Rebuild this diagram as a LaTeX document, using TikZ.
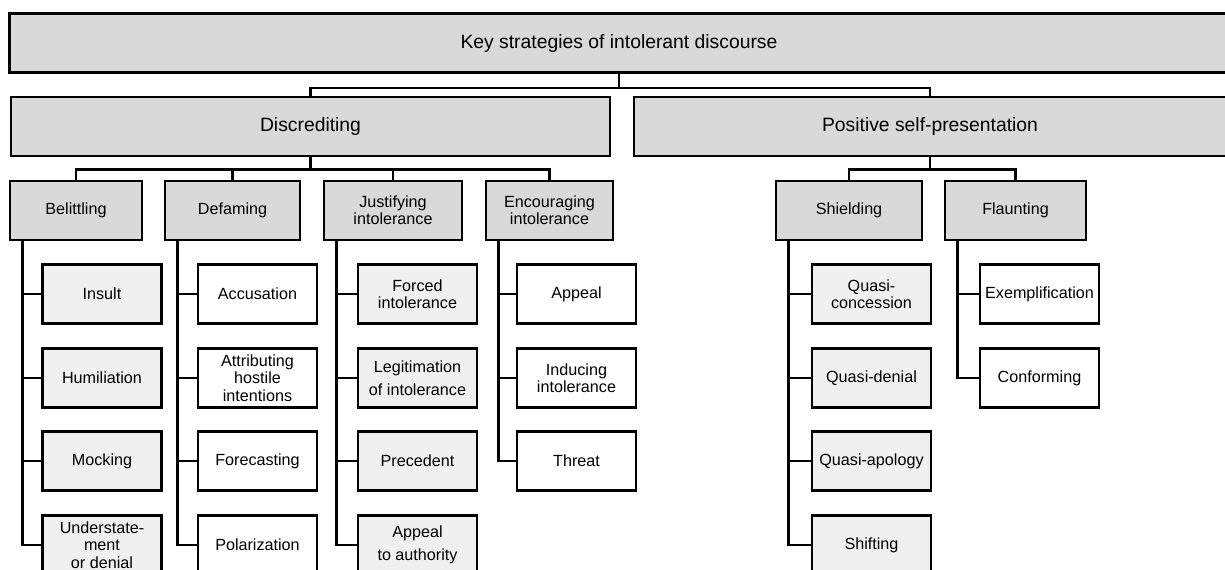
\documentclass[tikz,border=0pt]{standalone}
\usepackage{fontspec}
\setmainfont{Liberation Sans}

\definecolor{boxgray}{HTML}{D9D9D9}
\definecolor{leafgray}{HTML}{F0F0F0}

\tikzstyle{headbox} = [draw,line width=1.6pt,fill=boxgray,font=\fontsize{11}{13}\selectfont,minimum height=1.18cm,inner sep=0pt]
\tikzstyle{groupbox} = [draw,line width=1.6pt,fill=boxgray,align=center,font=\fontsize{9.2}{9.8}\selectfont,minimum height=1.18cm,inner sep=0pt]
\tikzstyle{leafbox} = [draw,line width=1.6pt,align=center,font=\fontsize{9.2}{9.8}\selectfont,minimum width=2.38cm,minimum height=1.18cm,inner sep=0pt]
\tikzstyle{link} = [draw,line width=1.5pt]

\begin{document}
\begin{tikzpicture}[x=0.02cm,y=-0.02cm]
      \useasboundingbox (0,0) rectangle (1225,569);
      \clip (0,0) rectangle (1225,569);
      %% top levels
      \node[headbox, minimum width=24.4cm] (top) at (619,43) {Key strategies of intolerant discourse};
      \node[headbox, minimum width=11.98cm] (disc) at (310.5,126.5) {Discrediting};
      \node[headbox, minimum width=11.84cm] (pos) at (930,126.5) {Positive self-presentation};

      %% strategy groups
      \foreach \nodename/\label/\x/\w in {
        bel/Belittling/76/2.64,
        def/Defaming/232.5/2.7,
        jus/{Justifying\\intolerance}/393/2.76,
        enc/{Encouraging\\intolerance}/549.5/2.54,
        shi/Shielding/849/2.92,
        fla/Flaunting/1015.5/2.82}
      {
        \node[groupbox, minimum width=\w cm] (\nodename) at (\x,210.5) {\label};
      }

      %% single strategies
      \foreach \nodename/\label/\x/\y/\color in {
        insult/Insult/102/294/leafgray,
        humil/Humiliation/102/378/leafgray,
        mock/Mocking/102/461/leafgray,
        under/{Understate-\\ment\\or denial}/102/545/leafgray,
        accus/Accusation/257.5/294/white,
        attrib/{Attributing\\hostile\\intentions}/257.5/378/white,
        fore/Forecasting/257.5/461/white,
        polar/Polarization/257.5/545/white,
        forced/{Forced\\intolerance}/417.5/294/leafgray,
        legit/{Legitimation\\[3.4pt]of intolerance}/417.5/378/leafgray,
        preced/Precedent/417.5/461/leafgray,
        author/{Appeal\\[3.4pt]to authority}/417.5/545/leafgray,
        appeal/Appeal/576.5/294/white,
        induc/{Inducing\\intolerance}/576.5/378/white,
        threat/Threat/576.5/461/white,
        qconc/{Quasi-\\concession}/871.5/294/leafgray,
        qden/Quasi-denial/871.5/378/leafgray,
        qapol/Quasi-apology/871.5/461/leafgray,
        shift/Shifting/871.5/545/leafgray,
        exempl/Exemplification/1039.5/294/white,
        conf/Conforming/1039.5/378/white}
      {
        \node[leafbox, fill=\color] (\nodename) at (\x,\y) {\label};
      }

      % tree lines
      \foreach \startnode/\endnode/\drop in {
        top/disc/14, top/pos/14, disc/bel/12, disc/def/12, disc/jus/12,
        disc/enc/12, pos/shi/12, pos/fla/12}
      {
        \draw[link] (\startnode.south) -- ++(0,\drop) -| (\endnode.north);
      }
      \foreach \startnode/\endnode in {
        bel/insult, bel/humil, bel/mock, bel/under,
        def/accus, def/attrib, def/fore, def/polar,
        jus/forced, jus/legit, jus/preced, jus/author,
        enc/appeal, enc/induc, enc/threat,
        shi/qconc, shi/qden, shi/qapol, shi/shift,
        fla/exempl, fla/conf}
      {
        \draw[link] ([xshift=0.28cm]\startnode.south west) |- (\endnode.west);
      }
    \end{tikzpicture}
\end{document}
